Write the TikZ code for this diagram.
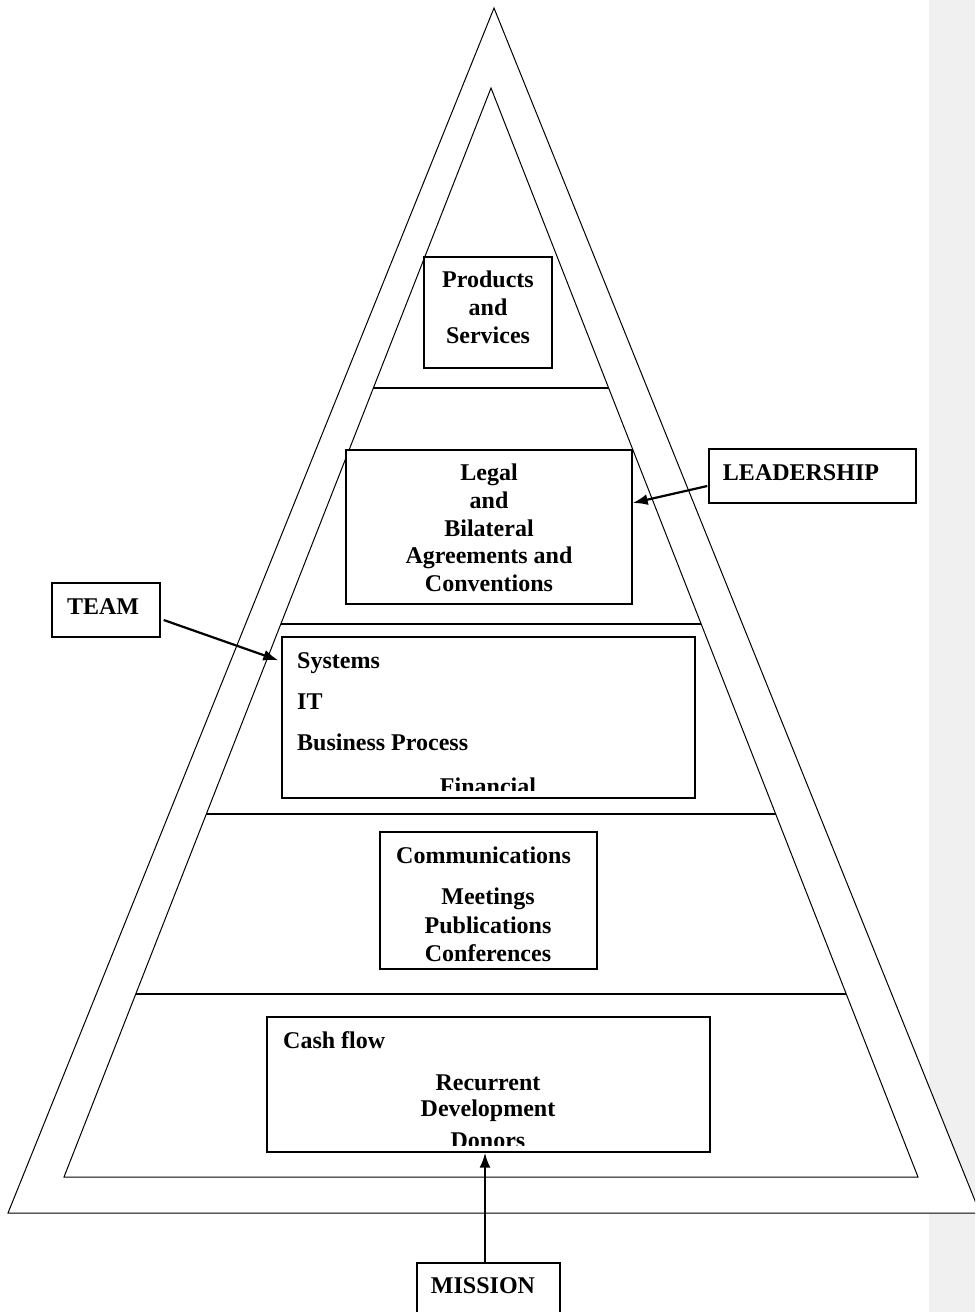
\documentclass[tikz,border=0pt]{standalone}
\usepackage{fontspec}
\setmainfont{Liberation Serif}
\usetikzlibrary{arrows.meta}
\definecolor{marginband}{RGB}{240,240,240}
\begin{document}
\begin{tikzpicture}[x=1pt,y=-1pt,
  frame/.style={draw, line width=1pt, line join=miter},
  tier/.style={draw, line width=1.3pt},
  box/.style={draw, line width=1.4pt, inner sep=0pt, fill=white},
  lbl/.style={font=\fontsize{24}{28}\selectfont\bfseries, inner sep=0pt, anchor=base},
  lbll/.style={lbl, anchor=base west},
  ptr/.style={line width=2.2pt, -{Latex[length=15pt,width=11pt]}}]
\useasboundingbox (0,0) rectangle (975,1312);
\clip (0,0) rectangle (975,1312);

% comment margin band on the right
\fill[marginband] (929,0) rectangle (975,1312);

% outer and inner pyramids
\draw[frame, fill=white] (494,8) -- (8,1213) -- (980,1213) -- cycle;
\draw[frame] (491,88) -- (64,1177) -- (918,1177) -- cycle;

% tier dividers spanning the inner pyramid
\draw[tier] (373.4,388) -- (608.6,388);
\draw[tier] (280.8,624) -- (701.2,624);
\draw[tier] (206.3,814) -- (775.7,814);
\draw[tier] (135.8,994) -- (846.2,994);

% boxes
\node[box, minimum width=128pt, minimum height=111pt] (prod)  at (488,312.5) {};
\node[box, minimum width=286pt, minimum height=154pt] (legal) at (489,527) {};
\node[box, minimum width=413pt, minimum height=161pt] (sys)   at (488.5,717.5) {};
\node[box, minimum width=217pt, minimum height=137pt] (comm)  at (488.5,900.5) {};
\node[box, minimum width=443pt, minimum height=135pt] (cash)  at (488.5,1084.5) {};
\node[box, minimum width=207pt, minimum height=54pt]  (lead)  at (812.5,476) {};
\node[box, minimum width=108pt, minimum height=54pt]  (team)  at (106,610) {};
\node[box, minimum width=143pt, minimum height=62pt]  (mission) at (488.5,1294) {};

% box texts
\node[lbl] (t1) at (488,287) {Products};
\node[lbl] (t2) at (488,315) {and};
\node[lbl] (t3) at (488,343) {Services};

\node[lbl] (t4) at (489,480) {Legal};
\node[lbl] (t5) at (489,508) {and};
\node[lbl] (t6) at (489,536) {Bilateral};
\node[lbl] (t7) at (489,563) {Agreements and};
\node[lbl] (t8) at (489,591) {Conventions};

\node[lbll] (t9)  at (297,668) {Systems};
\node[lbll] (t10) at (297,709) {IT};
\node[lbll] (t11) at (297,750) {Business Process};
\begin{scope}
  \clip (284,639) rectangle (693,790);
  \node[lbl] (t12) at (488,794) {Financial};
\end{scope}

\node[lbll] (t13) at (396,863) {Communications};
\node[lbl] (t14) at (488,904) {Meetings};
\node[lbl] (t15) at (488,933) {Publications};
\node[lbl] (t16) at (488,961) {Conferences};

\node[lbll] (t17) at (283,1048) {Cash flow};
\node[lbl] (t18) at (488,1090) {Recurrent};
\node[lbl] (t19) at (488,1116) {Development};
\begin{scope}
  \clip (269,1019) rectangle (708,1145);
  \node[lbl] (t20) at (488,1148) {Donors};
\end{scope}

\node[lbl] (t21) at (801,480) {LEADERSHIP};
\node[lbl] (t22) at (103,614) {TEAM};
\node[lbl] (t23) at (483,1293) {MISSION};

% pointers
\draw[ptr] ([shift={(3,10)}]team.east) -- ([shift={(-3,24)}]sys.north west);
\draw[ptr] ([shift={(-1,10)}]lead.west) -- ([shift={(0,-24)}]legal.east);
\draw[ptr] ([xshift=-3.5pt]mission.north) -- ([xshift=-3.5pt]mission.north |- cash.south);
\end{tikzpicture}
\end{document}
